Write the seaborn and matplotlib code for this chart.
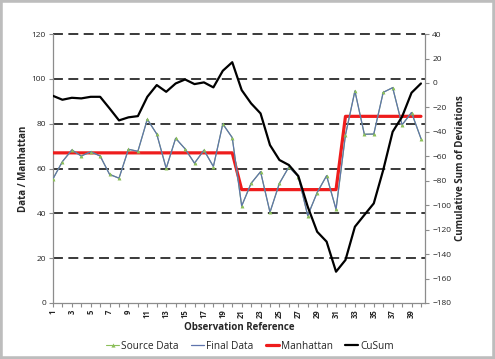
import matplotlib
matplotlib.use("Agg")
import matplotlib.pyplot as plt
import seaborn as sns
import pandas as pd
from matplotlib.lines import Line2D
from matplotlib.patches import Rectangle

observation = list(range(1, 41))
source_data = [55.4, 63.1, 68.3, 65.6, 67.5, 65.6, 57.4, 55.7, 68.6, 67.7,
               82.0, 75.4, 60.1, 73.5, 68.8, 62.4, 68.2, 60.9, 79.9, 73.8,
               43.3, 53.4, 58.6, 40.5, 53.4, 60.7, 56.4, 39.0, 49.3, 56.8,
               41.8, 75.0, 94.6, 75.3, 75.4, 94.0, 96.1, 79.5, 85.0, 73.4]
final_data = [55.4, 63.1, 68.3, 65.6, 67.5, 65.6, 57.4, 55.7, 68.6, 67.7,
              82.0, 75.4, 60.1, 73.5, 68.8, 62.4, 68.2, 60.9, 79.9, 73.8,
              43.3, 53.4, 58.6, 40.5, 53.4, 60.7, 56.4, 39.0, 49.3, 56.8,
              41.8, 75.0, 94.6, 75.3, 75.4, 94.0, 96.1, 79.5, 85.0, 73.4]
manhattan = [67.0, 67.0, 67.0, 67.0, 67.0, 67.0, 67.0, 67.0, 67.0, 67.0,
             67.0, 67.0, 67.0, 67.0, 67.0, 67.0, 67.0, 67.0, 67.0, 67.0,
             50.6, 50.6, 50.6, 50.6, 50.6, 50.6, 50.6, 50.6, 50.6, 50.6,
             50.6, 83.3, 83.3, 83.3, 83.3, 83.3, 83.3, 83.3, 83.3, 83.3]
cusum = [-10.5, -13.7, -12.1, -12.6, -11.3, -11.3, -20.8, -30.6, -28.1, -27.1,
         -11.3, -1.7, -7.2, -0.4, 2.9, -0.9, 0.5, -3.6, 10.0, 17.0,
         -5.8, -16.7, -24.9, -50.8, -63.0, -67.1, -76.1, -101.2, -121.7, -129.8,
         -154.4, -144.8, -117.6, -108.0, -98.5, -71.2, -39.9, -27.6, -8.0, -0.4]

df = pd.DataFrame({"obs": observation, "source": source_data, "final": final_data,
                   "manhattan": manhattan, "cusum": cusum})

sns.set_style("white")
plt.rcParams['font.family'] = ['Open Sans', 'DejaVu Sans']

GREEN = "#8cbf5a"
BLUE = "#5f74ad"
RED = "#ee1c1c"
GRAY = "#8c8c8c"

fig = plt.figure(figsize=(4.95, 3.59), dpi=100)
fig.patch.set_facecolor("white")
ax = fig.add_axes([0.107, 0.156, 0.752, 0.749])
ax2 = ax.twinx()

# gridlines
for v in [20, 40, 60, 80, 100, 120]:
    ax.axhline(v, color="#2a2a2a", lw=1.3, ls=(0, (5.5, 3)), zorder=0.5, clip_on=False)

sns.lineplot(data=df, x="obs", y="manhattan", ax=ax, color=RED, lw=2.3, zorder=3)
sns.lineplot(data=df, x="obs", y="source", ax=ax, color=GREEN, lw=0.8, marker="^",
             markersize=2.8, markeredgewidth=0, zorder=3.5)
sns.lineplot(data=df, x="obs", y="final", ax=ax, color=BLUE, lw=0.9, zorder=4)
ax.scatter(df["obs"], df["source"], marker="^", s=5, color=GREEN, zorder=5, linewidths=0)
sns.lineplot(data=df, x="obs", y="cusum", ax=ax2, color="black", lw=1.6, zorder=3)

ax.set_xlim(1, 40.45)
ax.set_ylim(0, 120)
ax2.set_ylim(-180, 40)
ax.set_yticks(range(0, 121, 20))
ax2.set_yticks(range(-180, 41, 20))
ax.set_xticks(observation)
ax.set_xticklabels([str(o) if o % 2 == 1 else "" for o in observation], rotation=90,
                   fontsize=5.5, fontweight="bold")
ax.tick_params(axis="y", labelsize=6, length=3, width=0.8, color=GRAY, pad=2)
ax.tick_params(axis="x", length=3, width=0.8, color=GRAY, pad=1.5, direction="out", bottom=True)
ax2.tick_params(axis="y", labelsize=6, length=3, width=0.8, color=GRAY, pad=2, direction="out")
ax.tick_params(axis="y", direction="out", left=True)

for a in (ax, ax2):
    a.spines["top"].set_visible(False)
    for s in ("left", "right", "bottom"):
        a.spines[s].set_color(GRAY)
        a.spines[s].set_linewidth(0.9)
ax.spines["right"].set_visible(False)
ax2.spines["left"].set_visible(False)
ax2.spines["bottom"].set_visible(False)

ax.set_xlabel("Observation Reference", fontsize=7, fontweight="bold", labelpad=3)
ax.set_ylabel("Data / Manhattan", fontsize=7, fontweight="bold", labelpad=2)
ax2.set_ylabel("Cumulative Sum of Deviations", fontsize=7, fontweight="bold", labelpad=3)

handles = [
    Line2D([], [], color=GREEN, lw=0.8, marker="^", markersize=3, markeredgewidth=0),
    Line2D([], [], color=BLUE, lw=0.9),
    Line2D([], [], color=RED, lw=2.3),
    Line2D([], [], color="black", lw=1.6),
]
labels = ["Source Data", "Final Data", "Manhattan", "CuSum"]
fig.legend(handles, labels, loc="center", bbox_to_anchor=(0.505, 0.035), ncol=4,
           frameon=False, fontsize=7.3, handlelength=1.3, handletextpad=0.2,
           columnspacing=1.2)

fig.patches.append(Rectangle((0, 0), 1, 1, transform=fig.transFigure, fill=False,
                             edgecolor="#bdbdbd", lw=4, zorder=10))

fig.savefig("out.png", dpi=100, facecolor="white")
